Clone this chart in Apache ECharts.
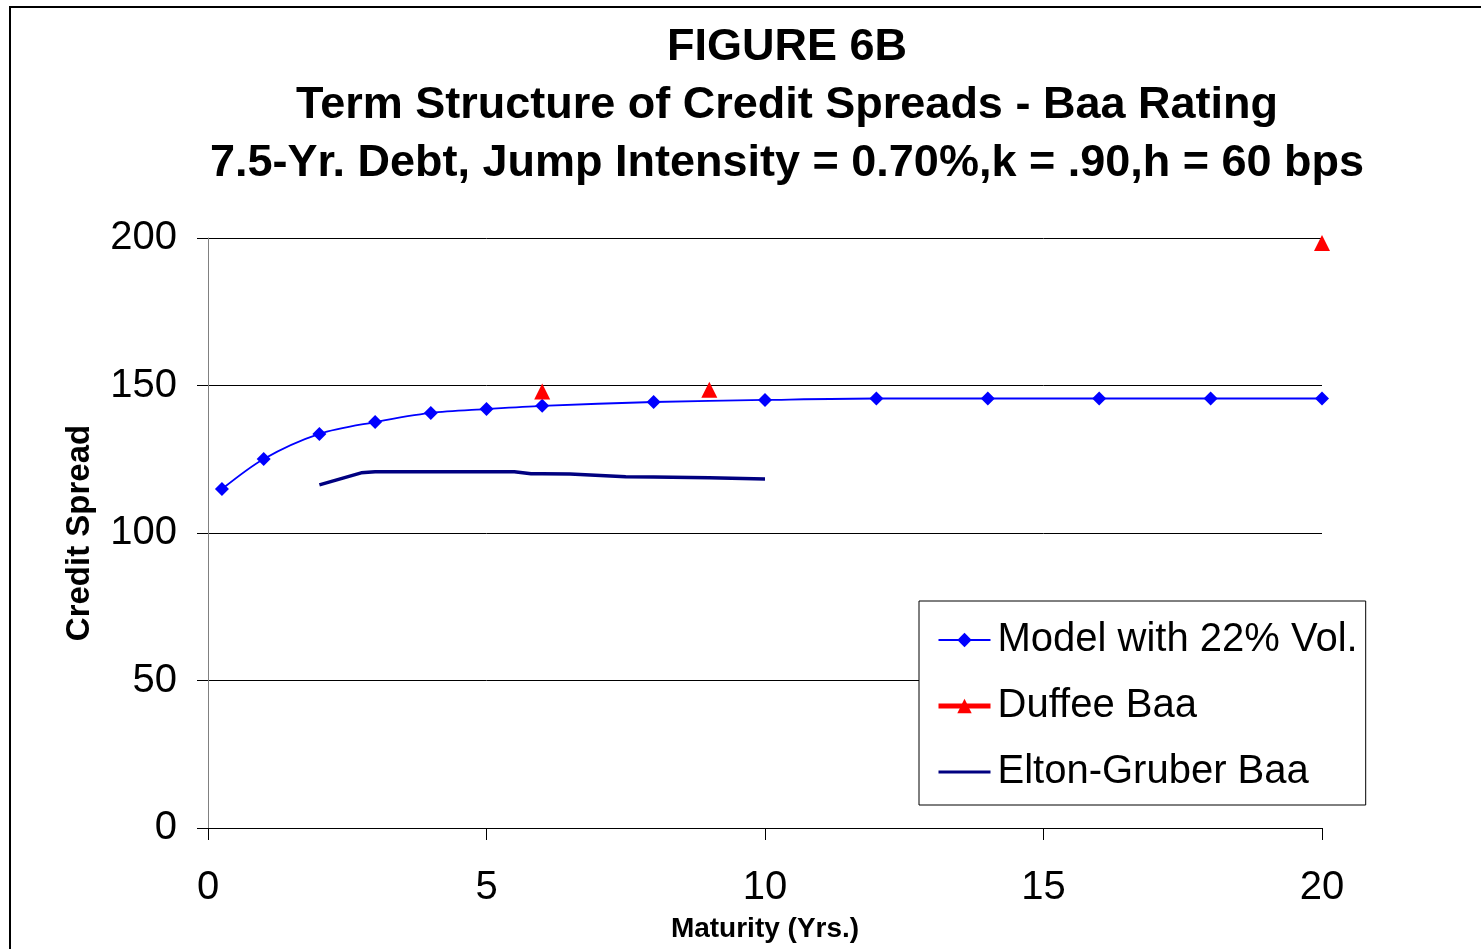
<!DOCTYPE html>
<html>
<head>
<meta charset="utf-8">
<script src="https://cdn.jsdelivr.net/npm/echarts@6/dist/echarts.min.js"></script>
<style>
html,body{margin:0;padding:0;background:#fff;}
#c{width:1481px;height:949px;}
</style>
</head>
<body>
<div id="c"></div>
<script>
// Data
const titleLines = ['FIGURE 6B', 'Term Structure of Credit Spreads - Baa Rating', '7.5-Yr. Debt, Jump Intensity = 0.70%,k = .90,h = 60 bps'];
const xTicks = [0, 5, 10, 15, 20];
const yTicks = [0, 50, 100, 150, 200];
const modelX = [0.25, 1, 2, 3, 4, 5, 6, 8, 10, 12, 14, 16, 18, 20];
const modelY = [114.9, 125.1, 133.6, 137.6, 140.7, 142.0, 143.1, 144.4, 145.1, 145.6, 145.6, 145.6, 145.6, 145.6];
const duffeeX = [6, 9, 20];
const duffeeY = [148.0, 148.6, 198.3];
const egX = [2, 2.75, 3, 4, 5, 5.5, 5.8, 6, 6.5, 7.5, 8, 9, 10];
const egY = [116.3, 120.4, 120.8, 120.8, 120.8, 120.8, 120.1, 120.1, 120.0, 119.1, 119.0, 118.7, 118.3];
const seriesNames = ['Model with 22% Vol.', 'Duffee Baa', 'Elton-Gruber Baa'];

const zip = (xs, ys) => xs.map((x, i) => [x, ys[i]]);
const FONT = '"Liberation Sans", Arial, sans-serif';

const chart = echarts.init(document.getElementById('c'), null, {renderer: 'canvas'});
chart.setOption({
  backgroundColor: '#fff',
  animation: false,
  title: {
    text: titleLines.join('\n'),
    left: 782, top: 14, textAlign: 'center',
    textStyle: {fontFamily: FONT, fontWeight: 'bold', fontSize: 45, lineHeight: 58, color: '#000'}
  },
  grid: {left: 208, right: 159, top: 238, bottom: 121, containLabel: false, outerBoundsMode: 'none'},
  xAxis: {
    type: 'value', min: 0, max: 20, interval: 5,
    name: 'Maturity (Yrs.)', nameLocation: 'middle', nameGap: 87,
    nameTextStyle: {fontFamily: FONT, fontWeight: 'bold', fontSize: 28, color: '#000'},
    axisLine: {show: true, lineStyle: {color: '#000', width: 1}},
    axisTick: {show: true, length: 12, inside: false, lineStyle: {color: '#000'}},
    axisLabel: {fontFamily: FONT, fontSize: 40, color: '#000', margin: 40,
      formatter: v => xTicks.includes(v) ? String(v) : ''},
    splitLine: {show: false}
  },
  yAxis: {
    type: 'value', min: 0, max: 200, interval: 50,
    name: 'Credit Spread', nameLocation: 'middle', nameGap: 112, nameRotate: 90,
    nameTextStyle: {fontFamily: FONT, fontWeight: 'bold', fontSize: 33, color: '#000'},
    axisLine: {show: true, lineStyle: {color: '#808080', width: 1}},
    axisTick: {show: true, length: 11, lineStyle: {color: '#000'}},
    axisLabel: {fontFamily: FONT, fontSize: 40, color: '#000', margin: 31, padding: [16, 0, 0, 0],
      formatter: v => yTicks.includes(v) ? String(v) : ''},
    splitLine: {show: true, lineStyle: {color: '#000', width: 1}}
  },
  legend: {
    orient: 'vertical', left: 919, top: 601, width: 449,
    backgroundColor: '#fff', borderColor: '#000', borderWidth: 1,
    padding: [16, 8, 10, 17],
    itemWidth: 52, itemHeight: 18, itemGap: 20,
    textStyle: {fontFamily: FONT, fontSize: 40, color: '#000', lineHeight: 46, padding: [0, 0, 0, 2]},
    data: [
      {name: seriesNames[0]},
      {name: seriesNames[1], lineStyle: {color: '#ff0000', width: 5, opacity: 1}},
      {name: seriesNames[2], itemStyle: {opacity: 0}, lineStyle: {color: '#000080', width: 3}}
    ]
  },
  series: [
    {
      name: seriesNames[0], type: 'line', data: zip(modelX, modelY),
      smooth: 0.3, symbol: 'diamond', symbolSize: 14,
      itemStyle: {color: '#0000ff'}, lineStyle: {color: '#0000ff', width: 1.8}, z: 3
    },
    {
      name: seriesNames[1], type: 'line', data: zip(duffeeX, duffeeY),
      symbol: 'triangle', symbolSize: 16,
      itemStyle: {color: '#ff0000'}, lineStyle: {color: '#ff0000', width: 0, opacity: 0}, z: 4
    },
    {
      name: seriesNames[2], type: 'line', data: zip(egX, egY),
      symbol: 'none', itemStyle: {color: '#000080'},
      lineStyle: {color: '#000080', width: 3.5}, z: 2
    }
  ],
  graphic: [
    {type: 'polyline', shape: {points: [[10, 949], [10, 7], [1481, 7]]},
     style: {stroke: '#000', lineWidth: 2, fill: null}, silent: true}
  ]
});
</script>
</body>
</html>
